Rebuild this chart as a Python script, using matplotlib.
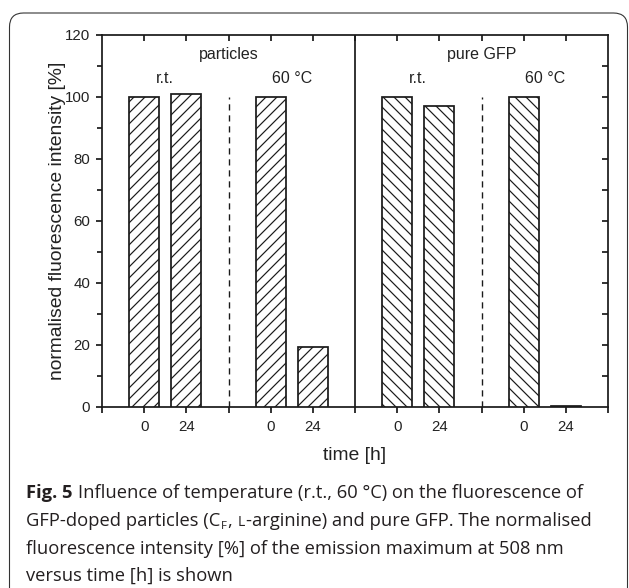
import matplotlib
matplotlib.use('Agg')
import matplotlib.pyplot as plt
import numpy as np
from matplotlib.patches import FancyBboxPatch
from matplotlib.transforms import IdentityTransform

# Data
x_pos = [1, 2, 4, 5, 7, 8, 10, 11]
tick_labels = ['0', '24', '0', '24', '0', '24', '0', '24']
particles = [100, 101, 100, 19.5]
pure_gfp = [100, 97, 100, 0.3]
group_labels = ['particles', 'pure GFP']
temp_labels = ['r.t.', '60 °C']

DPI = 66
W, H = 629, 588
plt.rcParams['font.family'] = ['Liberation Sans', 'DejaVu Sans']
plt.rcParams['hatch.linewidth'] = 1.3

fig = plt.figure(figsize=(W / DPI, H / DPI), dpi=DPI, facecolor='white')
ax = fig.add_axes([102 / W, 181 / H, 506 / W, 372 / H])

ink = '#1a1a1a'
txt = '#222222'
lw = 1.9

# bars
ax.bar(x_pos[:4], particles, width=0.71, color='white', edgecolor=ink,
       linewidth=lw, hatch='//', zorder=3)
ax.bar(x_pos[4:], pure_gfp, width=0.71, color='white', edgecolor=ink,
       linewidth=lw, hatch='\\\\', zorder=3)

# separators
ax.axvline(6, color=ink, linewidth=lw)
for xd in [3, 9]:
    ax.plot([xd, xd], [0, 100], color=ink, linewidth=1.5, dashes=(4.5, 3.5))

ax.set_xlim(0, 12)
ax.set_ylim(0, 120)

# ticks
ax.set_xticks(range(0, 13))
ax.set_xticklabels([tick_labels[x_pos.index(i)] if i in x_pos else '' for i in range(0, 13)])
ax.set_yticks(range(0, 121, 20))
ax.set_yticks(range(10, 120, 20), minor=True)
ax.tick_params(axis='x', which='both', direction='out', length=7, width=lw,
               color=ink, labelsize=16.4, labelcolor=txt, pad=7)
ax.tick_params(axis='y', which='major', direction='out', length=7, width=lw,
               color=ink, labelsize=16.4, labelcolor=txt, pad=6)
ax.tick_params(axis='y', which='minor', direction='out', length=5, width=lw, color=ink)

# inward ticks on top and right
ax_top = ax.secondary_xaxis('top')
ax_top.set_xticks(range(1, 12))
ax_top.tick_params(direction='in', length=7, width=lw, color=ink, labeltop=False)
ax_top.spines['top'].set_visible(False)
ax_right = ax.secondary_yaxis('right')
ax_right.set_yticks(range(10, 120, 10))
ax_right.tick_params(direction='in', length=7, width=lw, color=ink, labelright=False)
ax_right.spines['right'].set_visible(False)

for s in ax.spines.values():
    s.set_linewidth(lw)
    s.set_color(ink)

ax.set_ylabel('normalised fluorescence intensity [%]', fontsize=21, color=txt)
ax.yaxis.set_label_coords(-0.072, 0.5)
ax.set_xlabel('time [h]', fontsize=21, color=txt)
ax.xaxis.set_label_coords(0.5, -0.107)

# group annotations
for gx, g in zip([3, 9], group_labels):
    ax.text(gx, 113.8, g, ha='center', va='center', fontsize=17.5, color=txt)
    ax.text(gx - 1.5, 106, temp_labels[0], ha='center', va='center', fontsize=17.5, color=txt)
    ax.text(gx + 1.5, 106, temp_labels[1], ha='center', va='center', fontsize=17.5, color=txt)

# rounded frame
frame = FancyBboxPatch((9.5, -30), 618, H - 13 + 30,
                       boxstyle='round,pad=0,rounding_size=14',
                       transform=IdentityTransform(), facecolor='none',
                       edgecolor='#333333', linewidth=1.2, clip_on=False)
fig.patches.append(frame)

# caption, laid out piece by piece
renderer = fig.canvas.get_renderer()
cap_font = ['Open Sans', 'DejaVu Sans']
cap_size = 20
cap_color = '#231f20'


def text_width(s, **kw):
    t = fig.text(0, 0, s, fontsize=kw.get('size', cap_size),
                 weight=kw.get('weight', 'normal'), family=cap_font)
    w = t.get_window_extent(renderer).width
    t.remove()
    return w


space_w = text_width('x x') - text_width('xx')

SP = None
caption = [
    [('Fig. 5', cap_size, 'bold', 0), SP,
     ('Influence of temperature (r.t., 60 °C) on the fluorescence of', cap_size, 'normal', 0)],
    [('GFP-doped particles (C', cap_size, 'normal', 0),
     ('F', cap_size * 0.62, 'normal', 3),
     (',', cap_size, 'normal', 0), SP,
     ('L', cap_size * 0.76, 'normal', 0),
     ('-arginine) and pure GFP. The normalised', cap_size, 'normal', 0)],
    [('fluorescence intensity [%] of the emission maximum at 508 nm', cap_size, 'normal', 0)],
    [('versus time [h] is shown', cap_size, 'normal', 0)],
]
baselines = [498, 525.7, 553.5, 580.5]
for pieces, yb in zip(caption, baselines):
    x = 26.0
    for p in pieces:
        if p is SP:
            x += space_w
            continue
        s, size, weight, dy = p
        t = fig.text(x / W, 1 - (yb + dy) / H, s, ha='left', va='baseline',
                     fontsize=size, weight=weight, color=cap_color, family=cap_font)
        x += t.get_window_extent(renderer).width + 0.8

fig.savefig('out.png', dpi=DPI, facecolor='white')
